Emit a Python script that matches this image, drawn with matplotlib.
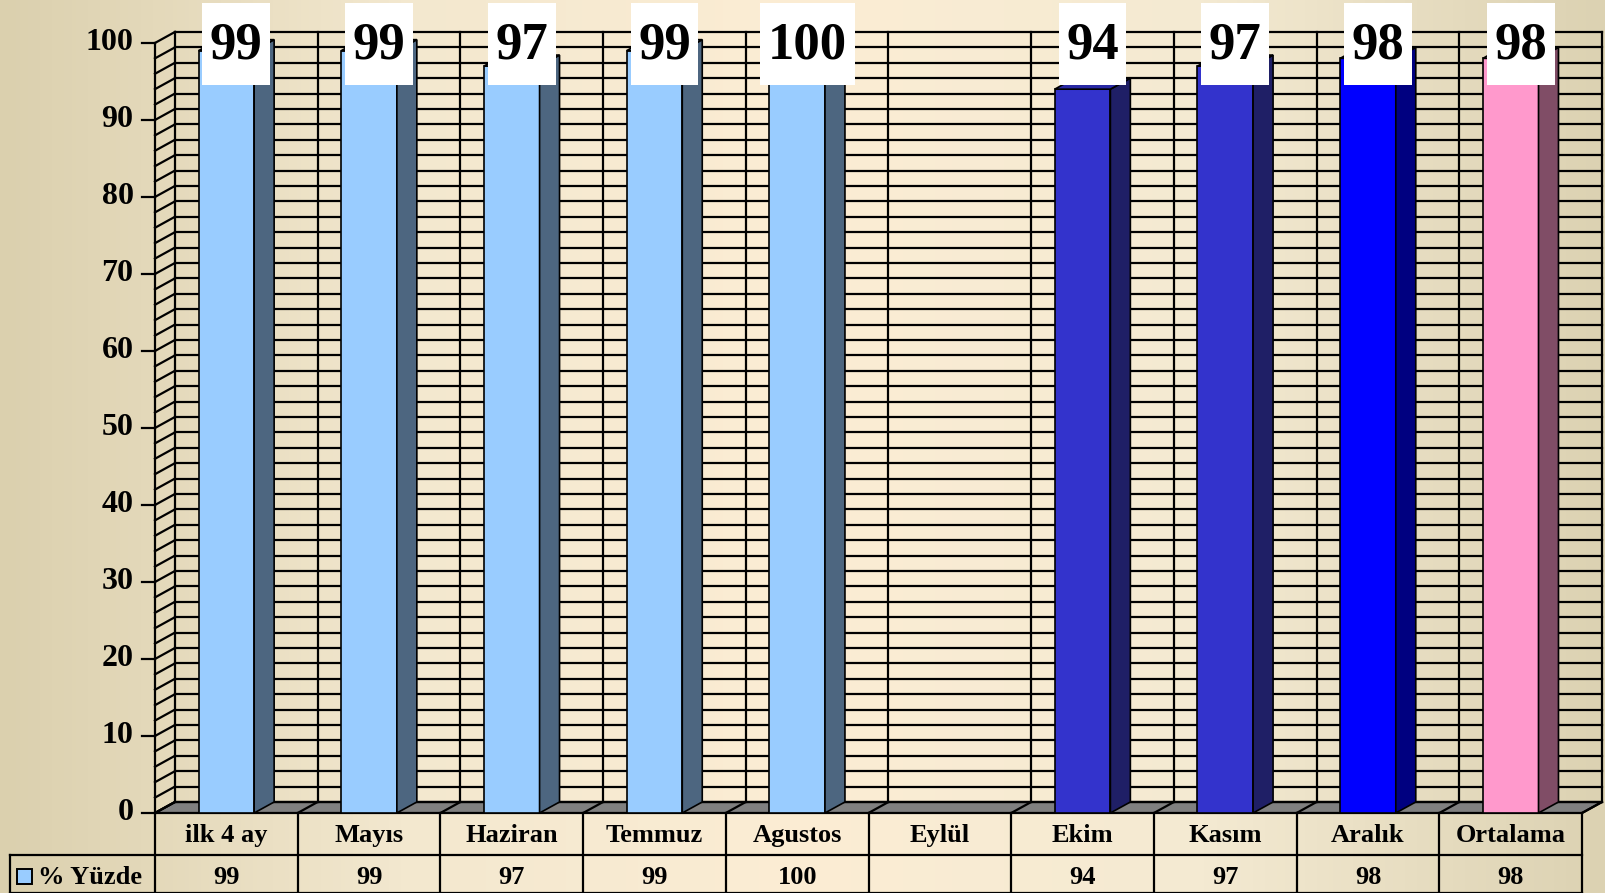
import numpy as np
import matplotlib
matplotlib.use('Agg')
import matplotlib.pyplot as plt
from matplotlib.patches import Polygon, Rectangle
from matplotlib.colors import LinearSegmentedColormap

categories = ['ilk 4 ay', 'Mayıs', 'Haziran', 'Temmuz', 'Agustos', 'Eylül',
              'Ekim', 'Kasım', 'Aralık', 'Ortalama']
values = [99, 99, 97, 99, 100, np.nan, 94, 97, 98, 98]
value_labels = ['99', '99', '97', '99', '100', '', '94', '97', '98', '98']
yticks = [0, 10, 20, 30, 40, 50, 60, 70, 80, 90, 100]
series_name = '% Yüzde'

front_cols = ['#99CCFF'] * 5 + ['#99CCFF', '#3333CC', '#3333CC', '#0000FF', '#FF99CC']
side_cols = ['#4D6680'] * 5 + ['#4D6680', '#1F1F66', '#1F1F66', '#000080', '#804D66']
top_cols = ['#7AA3CC'] * 5 + ['#7AA3CC', '#2828A3', '#2828A3', '#0000CC', '#CC7AA3']

plt.rcParams['font.family'] = ['Liberation Serif', 'DejaVu Serif']
plt.rcParams['font.weight'] = 'bold'

fig = plt.figure(figsize=(16.06, 8.93), dpi=100)
ax = fig.add_axes([0, 0, 1, 1])
xmin, xmax = -1.086, 10.168
ymin, ymax = -10.39, 105.58
ax.set_xlim(xmin, xmax)
ax.set_ylim(ymin, ymax)
ax.axis('off')

# background gradient
cmap = LinearSegmentedColormap.from_list('bg', ['#DBD0AE', '#F3E8CF', '#FCEDD4', '#F4EAD2', '#DCD2B2'])
grad = np.linspace(0, 1, 400).reshape(1, -1)
ax.imshow(grad, cmap=cmap, extent=[xmin, xmax, ymin, ymax], aspect='auto', zorder=0)

n = len(categories)
dx, dy = 0.14, 1.43
lw = 1.6

# floor
ax.add_patch(Polygon([(0, 0), (n, 0), (n + dx, dy), (dx, dy)], closed=True,
                     facecolor='#808080', edgecolor='black', lw=lw, zorder=1))
for k in range(n + 1):
    ax.plot([k, k + dx], [0, dy], color='black', lw=lw, zorder=1.1)

# walls grid
for g in range(0, 101, 2):
    ax.plot([dx, n + dx], [g + dy, g + dy], color='black', lw=lw, zorder=1)
    ax.plot([0, dx], [g, g + dy], color='black', lw=lw, zorder=1)
for k in range(n + 1):
    ax.plot([k + dx, k + dx], [dy, 100 + dy], color='black', lw=lw, zorder=1)
ax.plot([0, 0], [0, 100], color='black', lw=lw, zorder=1)

# bars
x = np.arange(n) + 0.5
w = 0.39
ax.bar(x, values, width=w, color=front_cols, edgecolor='black', lw=1.2, zorder=3)
for xi, v, sc, tc in zip(x, values, side_cols, top_cols):
    if np.isnan(v):
        continue
    r, l = xi + w / 2, xi - w / 2
    ax.add_patch(Polygon([(r, 0), (r + dx, dy), (r + dx, v + dy), (r, v)], closed=True,
                         facecolor=sc, edgecolor='black', lw=1.2, zorder=3))
    ax.add_patch(Polygon([(l, v), (r, v), (r + dx, v + dy), (l + dx, v + dy)], closed=True,
                         facecolor=tc, edgecolor='black', lw=1.2, zorder=3))

# value labels on top (white boxes)
for xi, lab in zip(x, value_labels):
    if not lab:
        continue
    bw = 0.475 if len(lab) == 2 else 0.667
    cx = xi + dx / 2
    ax.add_patch(Rectangle((cx - bw / 2, 94.6), bw, 10.6, facecolor='white',
                           edgecolor='none', zorder=5))
    ax.text(cx, 99.7, lab, ha='center', va='center', fontsize=38,
            fontweight='bold', color='black', zorder=6)

# y axis ticks
for t in yticks:
    ax.plot([-0.09, 0], [t, t], color='black', lw=lw, zorder=2)
    ax.text(-0.15, t, str(t), ha='right', va='center', fontsize=23,
            fontweight='bold', zorder=2)

# data table
row1, row2 = -5.45, ymin + 0.05
ax.plot([-1.016, n], [row1, row1], color='black', lw=lw, zorder=2)
ax.plot([-1.016, -1.016], [row1, row2], color='black', lw=lw, zorder=2)
ax.plot([-1.016, n], [row2, row2], color='black', lw=lw, zorder=2)
for k in range(n + 1):
    ax.plot([k, k], [0, row2], color='black', lw=lw, zorder=2)
for xi, c, lab in zip(x, categories, value_labels):
    ax.text(xi, -2.9, c, ha='center', va='center', fontsize=19, fontweight='bold')
    ax.text(xi, -8.35, lab, ha='center', va='center', fontsize=19,
            fontweight='bold')
ax.add_patch(Rectangle((-0.965, -9.25), 0.105, 2.0, facecolor='#99CCFF',
                       edgecolor='black', lw=1.4, zorder=3))
ax.text(-0.82, -8.35, series_name, ha='left', va='center', fontsize=19,
        fontweight='bold')

fig.savefig('out.png', dpi=100)
